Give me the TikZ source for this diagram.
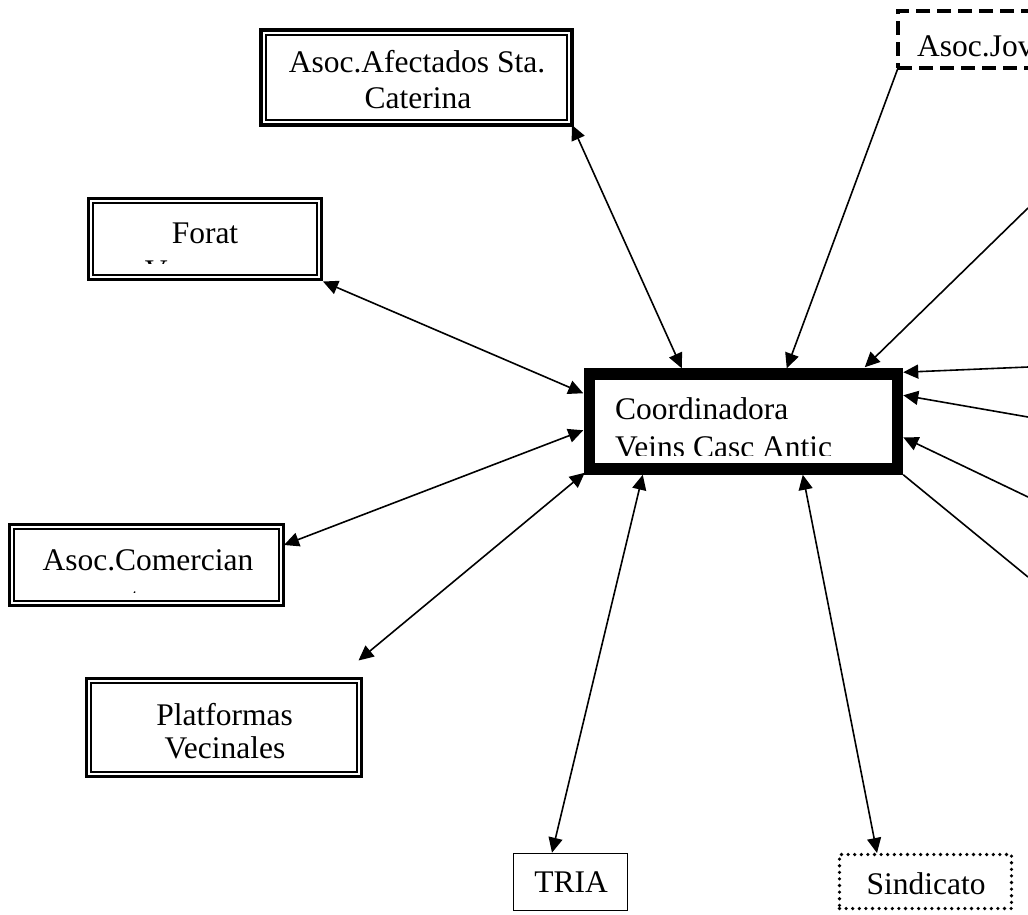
\documentclass[tikz,border=0pt]{standalone}
\usepackage{fontspec}
\setmainfont{Liberation Serif}
\usetikzlibrary{arrows.meta,calc}
\tikzset{
  txt/.style={font=\fontsize{31.5}{36}\selectfont, inner sep=0pt, anchor=base},
  txtl/.style={txt, anchor=base west},
  dbox/.style={draw, line width=3.8pt, outer sep=0pt, inner sep=0pt,
    path picture={\draw[line width=2pt]
      ([shift={(4.9pt,-4.9pt)}]path picture bounding box.north west) rectangle
      ([shift={(-4.9pt,4.9pt)}]path picture bounding box.south east);}},
  sbox/.style={draw, line width=1.6pt, inner sep=0pt},
  dotbox/.style={draw, line width=3.6pt, line cap=round, dash pattern=on 0pt off 6.6pt, inner sep=0pt, outer sep=0pt},
  dashbox/.style={draw, line width=3.6pt, dash pattern=on 14pt off 7pt, inner sep=0pt, outer sep=0pt},
  mainbox/.style={draw, line width=11.5pt, outer sep=5.75pt, inner sep=0pt},
  link/.style={line width=1.6pt},
  >={Triangle[length=15pt,width=14pt]}
}
\begin{document}
\begin{tikzpicture}[x=1pt,y=-1pt]
\fill[white] (0,0) rectangle (1028,914);
\clip (0,0) rectangle (1028,914);

% boxes
\node[dbox, minimum width=311pt, minimum height=95pt] (af) at (416.5,77.5) {};
\node[dbox, minimum width=233pt, minimum height=81pt] (fo) at (205,239) {};
\node[dbox, minimum width=274pt, minimum height=81pt] (co) at (146.5,565) {};
\node[dbox, minimum width=275pt, minimum height=98pt] (pl) at (224,727.5) {};
\node[sbox, minimum width=114pt, minimum height=57pt] (tr) at (570.5,882) {};
\node[dotbox, minimum width=172pt, minimum height=54pt] (si) at (925.5,881.5) {};
\node[dashbox, minimum width=250pt, minimum height=57pt, anchor=north west] (jv) at (898,11) {};
\node[mainbox, minimum width=308pt, minimum height=95pt] (c) at (743.5,421.5) {};

% texts
\node[txt] (afa) at (417,72.7) {Asoc.Afectados Sta.};
\node[txt] (afb) at (418,108.5) {Caterina};
\node[txt] (foa) at (205,243) {Forat};
\begin{scope}
  \clip (92,203) rectangle (320,263);
  \node[txt] (fob) at (205,281.5) {Vergonya};
\end{scope}
\node[txt] (coa) at (148,570) {Asoc.Comercian};
\begin{scope}
  \clip (15,529) rectangle (281,592);
  \node[txt] (cob) at (148,609) {tes};
\end{scope}
\node[txt] (pla) at (224.5,725) {Platformas};
\node[txt] (plb) at (225,758) {Vecinales};
\node[txt] (tra) at (571,892) {TRIA};
\node[txt] (sia) at (926,894) {Sindicato};
\node[txtl] (jva) at (917,56) {Asoc.Jov};
\node[txtl] (ca) at (615,419) {Coordinadora};
\begin{scope}
  \clip (595,380) rectangle (892,455);
  \node[txtl] (cb) at (615,457) {Veins Casc Antic};
\end{scope}

% off-page ends
\coordinate (r1) at (1028,208);
\coordinate (r2) at (1028,367);
\coordinate (r3) at (1028,417);
\coordinate (r4) at (1028,497);
\coordinate (r5) at (1028,577);

% connectors
\draw[link,<->] (af.south east) -- ($(c.north west)+(98,0)$);
\draw[link,<->] ($(fo.south east)+(1.5,2)$) -- ($(c.north west)+(-0.5,25)$);
\draw[link,<->] ($(co.east)+(0.5,-20)$) -- ($(c.north west)+(-0.5,62)$);
\draw[link,<->] ($(pl.north east)+(-3,-18)$) -- ($(c.south west)+(1,-2)$);
\draw[link,<->] ($(tr.north)+(-18.5,0)$) -- ($(c.south west)+(59,0)$);
\draw[link,<->] ($(si.north)+(-48.5,-1.5)$) -- ($(c.south west)+(219,0)$);
\draw[link,->] (jv.south west) -- ($(c.north west)+(203,0)$);
\draw[link,->] (r1) -- ($(c.north west)+(281,-1)$);
\draw[link,->] (r2) -- ($(c.north east)+(0,4)$);
\draw[link,->] (r3) -- ($(c.north east)+(0,27)$);
\draw[link,->] (r4) -- ($(c.north east)+(0,69)$);
\draw[link] (c.south east) -- (r5);
\end{tikzpicture}
\end{document}
